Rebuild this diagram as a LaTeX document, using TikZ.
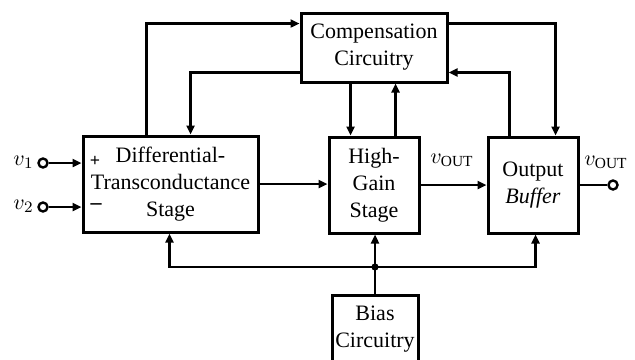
\documentclass[tikz,border=0pt]{standalone}
\usepackage{fontspec}
\setmainfont{Liberation Serif}
\usetikzlibrary{arrows.meta}
\tikzset{
  blk/.style={draw, line width=1.5pt, align=center, font=\fontsize{11}{13.5}\selectfont, inner sep=1pt},
  arr/.style={line width=1.4pt, -{Triangle[length=4.5pt,width=4pt]}},
  ln/.style={line width=1.4pt},
  term/.style={circle, draw, line width=1.2pt, minimum size=4.5pt, inner sep=0pt, fill=white},
  lbl/.style={font=\fontsize{11}{13}\selectfont, inner sep=0pt}
}
\begin{document}
\begin{tikzpicture}[x=0.5pt,y=-0.5pt]
\useasboundingbox (0,0) rectangle (635,359);
\node[blk, minimum width=73pt, minimum height=34.5pt] (comp) at (374,47.5) {Compensation\\Circuitry};
\node[blk, minimum width=87.5pt, minimum height=48pt] (diff) at (170.5,184) {Differential-\\Transconductance\\Stage};
\node[blk, minimum width=45pt, minimum height=48pt] (hg) at (374,185) {High-\\Gain\\Stage};
\node[blk, minimum width=45pt, minimum height=48pt] (ob) at (533,185) {Output\\\textit{Buffer}};
\node[blk, minimum width=43pt, minimum height=34pt] (bias) at (375,329) {Bias\\Circuitry};

% compensation connections
\coordinate (c1) at ([xshift=32.5pt]diff.north west);
\coordinate (c2) at ([xshift=54.5pt]diff.north west);
\coordinate (c3) at ([xshift=11.5pt]hg.north west);
\coordinate (c4) at ([xshift=34pt]hg.north west);
\coordinate (c5) at ([xshift=34.5pt]ob.north west);
\coordinate (c6) at ([xshift=11.5pt]ob.north west);
\draw[arr] (c1) |- ([yshift=-6pt]comp.north west);
\draw[arr] ([yshift=5.5pt]comp.south west) -| (c2);
\draw[arr] (c3 |- comp.south) -- (c3);
\draw[arr] (c4) -- (c4 |- comp.south);
\draw[arr] ([yshift=-6pt]comp.north east) -| (c5);
\draw[arr] (c6) |- ([yshift=5.5pt]comp.south east);

% signal path
\draw[arr] (diff.east) -- (diff.east -| hg.west);
\draw[arr] (hg.east) -- (ob.west);
\node[term] (out) at (613,185) {};
\draw[ln] (ob.east) -- (out);
\node[lbl] (lvo1) at (452,160) {$v_{\mathrm{OUT}}$};
\node[lbl] (lvo2) at (606,162) {$v_{\mathrm{OUT}}$};

% inputs
\node[term] (in1) at (43,163) {};
\node[term] (in2) at (43,207) {};
\draw[arr] (in1) -- (in1 -| diff.west);
\draw[arr] (in2) -- (in2 -| diff.west);
\node[lbl, anchor=east] (lv1) at (34,162) {$v_1$};
\node[lbl, anchor=east] (lv2) at (34,206) {$v_2$};
\node[lbl, font=\fontsize{9}{10}\selectfont] (plus) at (95,161) {\bfseries +};
\node[lbl] (minus) at (96,207) {\bfseries --};

% bias
\coordinate (j) at (bias.north |- 0,267);
\coordinate (c10) at ([xshift=44pt]diff.south west);
\coordinate (c11) at ([xshift=24.5pt]ob.south west);
\draw[ln] (bias.north) -- (j);
\draw[arr] (j) -- (j |- hg.south);
\draw[arr] (j) -| (c10);
\draw[arr] (j) -| (c11);
\fill (j) circle (1.8pt);
\end{tikzpicture}
\end{document}
